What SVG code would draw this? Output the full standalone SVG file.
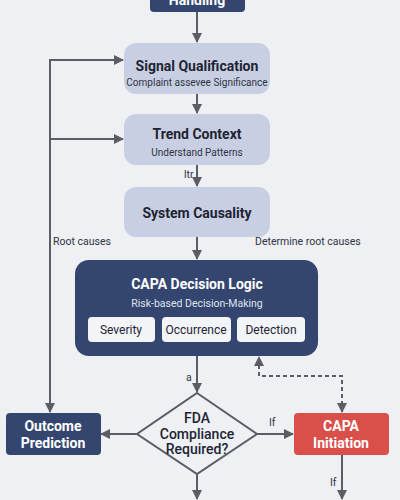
<svg xmlns="http://www.w3.org/2000/svg" width="400" height="500" viewBox="0 0 400 500">
<style>
.t{font-family:Roboto,"Liberation Sans",sans-serif}
.title{font-size:14px;font-weight:bold;fill:#1e2433;text-anchor:middle}
.sub{font-size:10px;fill:#2e3445;text-anchor:middle}
.lbl{font-size:10.5px;fill:#2e3445}
.light{fill:#c9cfe2}
.navy{fill:#34466f}
.wt{font-size:14px;font-weight:bold;fill:#ffffff;text-anchor:middle}
.conn{stroke:#5a5d63;stroke-width:2;fill:none}
.chip{fill:#f3f4f7}
.ct{font-size:12px;fill:#1e2433;text-anchor:middle}
.dt{font-size:14px;font-weight:500;fill:#1e2433;text-anchor:middle}
</style>
<defs>
<marker id="ah" viewBox="0 0 10 10" refX="9" refY="5" markerWidth="5" markerHeight="5" orient="auto-start-reverse">
<path d="M0,0 L10,5 L0,10 z" fill="#5a5d63"/>
</marker>
</defs>
<rect width="400" height="500" fill="#eef0f4"/>
<g id="connectors">
<line class="conn" x1="197" y1="12" x2="197" y2="42" marker-end="url(#ah)"/>
<line class="conn" x1="197" y1="94" x2="197" y2="113" marker-end="url(#ah)"/>
<line class="conn" x1="197" y1="165" x2="197" y2="186" marker-end="url(#ah)"/>
<line class="conn" x1="197" y1="237" x2="197" y2="259" marker-end="url(#ah)"/>
<line class="conn" x1="197" y1="356" x2="197" y2="392" marker-end="url(#ah)"/>
<polyline class="conn" points="123,60 50,60 50,412" marker-start="url(#ah)" marker-end="url(#ah)"/>
<line class="conn" x1="50" y1="139" x2="123" y2="139" marker-end="url(#ah)"/>
<line class="conn" x1="137" y1="434" x2="101" y2="434" marker-end="url(#ah)"/>
<line class="conn" x1="257" y1="434" x2="293" y2="434" marker-end="url(#ah)"/>
<polyline class="conn" points="342,412 342,376 259,376 259,357" stroke-dasharray="4,3" marker-start="url(#ah)" marker-end="url(#ah)"/>
<line class="conn" x1="342" y1="455" x2="342" y2="499" marker-end="url(#ah)"/>
<line class="conn" x1="197" y1="474" x2="197" y2="499" marker-end="url(#ah)"/>
<text class="t lbl" x="184" y="178">ltr</text>
<text class="t lbl" x="53" y="245">Root causes</text>
<text class="t lbl" x="255" y="245">Determine root causes</text>
<text class="t lbl" x="186" y="381">a</text>
<text class="t lbl" x="269" y="426">If</text>
<text class="t lbl" x="330" y="486">If</text>
</g>
<g id="handling">
<rect x="150" y="-20" width="95" height="32" rx="4" class="navy"/>
<text class="t wt" x="197" y="5">Handling</text>
</g>
<g id="signal-qualification">
<rect x="124" y="43" width="146" height="51" rx="12" class="light"/>
<text class="t title" x="197" y="71">Signal Qualification</text>
<text class="t sub" x="197" y="86">Complaint assevee Significance</text>
</g>
<g id="trend-context">
<rect x="124" y="114" width="146" height="51" rx="12" class="light"/>
<text class="t title" x="197" y="139">Trend Context</text>
<text class="t sub" x="197" y="156">Understand Patterns</text>
</g>
<g id="system-causality">
<rect x="124" y="187" width="146" height="50" rx="12" class="light"/>
<text class="t title" x="197" y="218">System Causality</text>
</g>
<g id="capa-decision-logic">
<rect x="75" y="260" width="243" height="96" rx="14" class="navy"/>
<text class="t wt" x="197" y="289">CAPA Decision Logic</text>
<text class="t sub" x="197" y="307" style="fill:#dfe3ee;font-size:10.5px">Risk-based Decision-Making</text>
<rect x="88" y="317" width="67" height="25" rx="4" class="chip"/>
<text class="t ct" x="121" y="334">Severity</text>
<rect x="162" y="317" width="69" height="25" rx="4" class="chip"/>
<text class="t ct" x="196" y="334">Occurrence</text>
<rect x="237" y="317" width="68" height="25" rx="4" class="chip"/>
<text class="t ct" x="271" y="334">Detection</text>
</g>
<g id="fda-compliance">
<polygon points="197,393 257,434 197,474 137,434" fill="#eef0f4" stroke="#5a5d63" stroke-width="2"/>
<text class="t dt" x="197" y="423">FDA</text>
<text class="t dt" x="197" y="439">Compliance</text>
<text class="t dt" x="197" y="454">Required?</text>
</g>
<g id="outcome-prediction">
<rect x="6" y="413" width="95" height="42" rx="4" class="navy"/>
<text class="t wt" x="53" y="431">Outcome</text>
<text class="t wt" x="53" y="448">Prediction</text>
</g>
<g id="capa-initiation">
<rect x="294" y="413" width="95" height="42" rx="4" fill="#d94f4a"/>
<text class="t wt" x="341" y="431">CAPA</text>
<text class="t wt" x="341" y="448">Initiation</text>
</g>
</svg>
